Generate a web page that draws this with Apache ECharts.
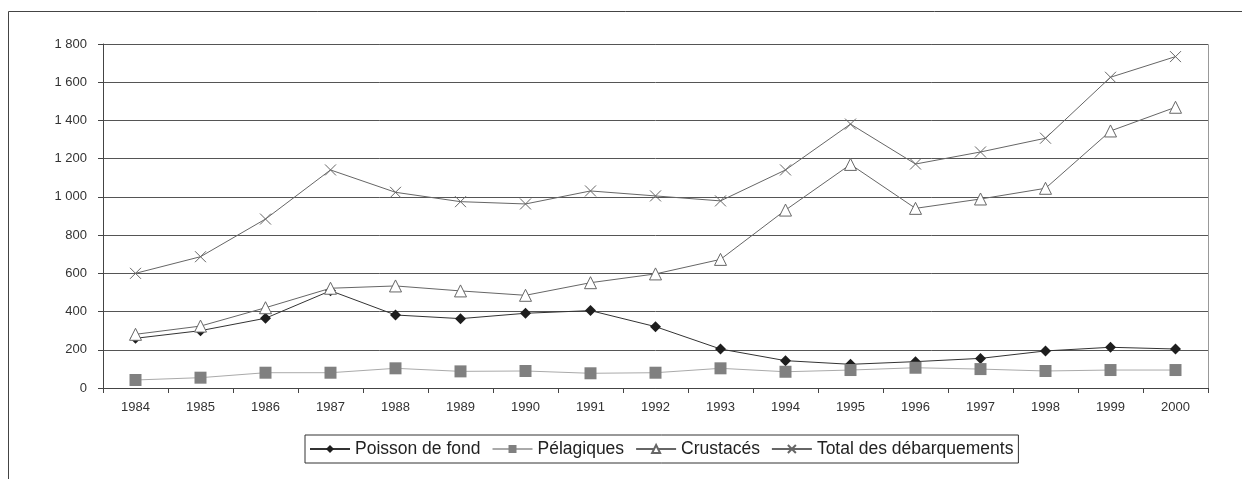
<!DOCTYPE html>
<html>
<head>
<meta charset="utf-8">
<script src="https://cdn.jsdelivr.net/npm/echarts@6/dist/echarts.min.js"></script>
<style>
  html, body { margin: 0; padding: 0; background: #fff; }
  #chart { width: 1242px; height: 479px; }
</style>
</head>
<body>
<div id="chart"></div>
<script>
// Débarquements par groupe d'espèces, 1984-2000
const years = ['1984','1985','1986','1987','1988','1989','1990','1991','1992','1993','1994','1995','1996','1997','1998','1999','2000'];
const poissonDeFond = [260, 300, 365, 509, 382, 363, 391, 405, 321, 204, 143, 124, 138, 155, 194, 213, 204];
const pelagiques    = [42, 54, 80, 80, 103, 87, 89, 77, 80, 103, 85, 94, 106, 99, 89, 94, 94];
const crustaces     = [281, 324, 420, 522, 534, 508, 485, 551, 597, 673, 931, 1170, 940, 989, 1045, 1345, 1469];
const totalDeb      = [600, 687, 884, 1141, 1024, 975, 963, 1031, 1005, 979, 1141, 1381, 1172, 1235, 1307, 1626, 1734];
const seriesNames = ['Poisson de fond', 'Pélagiques', 'Crustacés', 'Total des débarquements'];

const crossPath = 'path://M0,0L10,10M10,0L0,10';

const chart = echarts.init(document.getElementById('chart'), null, { renderer: 'canvas' });

const fmtThousands = v => String(v).replace(/\B(?=(\d{3})+(?!\d))/g, ' ');

chart.setOption({
  animation: false,
  backgroundColor: '#ffffff',
  textStyle: { fontFamily: 'Liberation Sans, Arial, sans-serif' },
  graphic: [{
    // outer frame around the whole figure
    type: 'rect',
    shape: { x: 8.5, y: 11.5, width: 1260, height: 500 },
    style: { fill: 'none', stroke: '#444', lineWidth: 1 },
    z: -1
  }, {
    // plot area border
    type: 'rect',
    shape: { x: 103.5, y: 44.5, width: 1105, height: 344 },
    style: { fill: 'none', stroke: '#999', lineWidth: 1 },
    z: -1
  }],
  grid: { left: 103, right: 34, top: 44, bottom: 91, containLabel: false },
  legend: {
    data: seriesNames,
    left: 305,
    top: 435,
    itemWidth: 40,
    itemHeight: 10,
    itemGap: 11,
    padding: [5, 5, 5, 4],
    borderColor: '#333',
    borderWidth: 1,
    textStyle: { fontSize: 17.5, color: '#222', fontFamily: 'Liberation Sans, Arial, sans-serif' }
  },
  xAxis: {
    type: 'category',
    data: years,
    boundaryGap: true,
    axisLine: { lineStyle: { color: '#444', width: 1 } },
    axisTick: { show: true, length: 5, inside: false, lineStyle: { color: '#444' } },
    axisLabel: { color: '#333', fontSize: 13, margin: 13 }
  },
  yAxis: {
    type: 'value',
    min: 0,
    max: 1800,
    interval: 200,
    axisLine: { show: true, lineStyle: { color: '#444', width: 1 } },
    axisTick: { show: true, length: 5, lineStyle: { color: '#444' } },
    axisLabel: { color: '#333', fontSize: 13, margin: 16, formatter: fmtThousands },
    splitLine: { lineStyle: { color: '#555', width: 1 } }
  },
  series: [{
    name: seriesNames[0],
    type: 'line',
    data: poissonDeFond,
    symbol: 'diamond',
    symbolSize: 11,
    lineStyle: { color: '#333', width: 1 },
    itemStyle: { color: '#1e1e1e' }
  }, {
    name: seriesNames[1],
    type: 'line',
    data: pelagiques,
    symbol: 'rect',
    symbolSize: 12,
    lineStyle: { color: '#aaa', width: 1 },
    itemStyle: { color: '#808080' }
  }, {
    name: seriesNames[2],
    type: 'line',
    data: crustaces,
    symbol: 'triangle',
    symbolSize: 12,
    lineStyle: { color: '#666', width: 1 },
    itemStyle: { color: '#fff', borderColor: '#666', borderWidth: 1 }
  }, {
    name: seriesNames[3],
    type: 'line',
    data: totalDeb,
    symbol: crossPath,
    symbolSize: 11,
    lineStyle: { color: '#666', width: 1 },
    itemStyle: { color: 'none', borderColor: '#666', borderWidth: 1 }
  }]
});
</script>
</body>
</html>
